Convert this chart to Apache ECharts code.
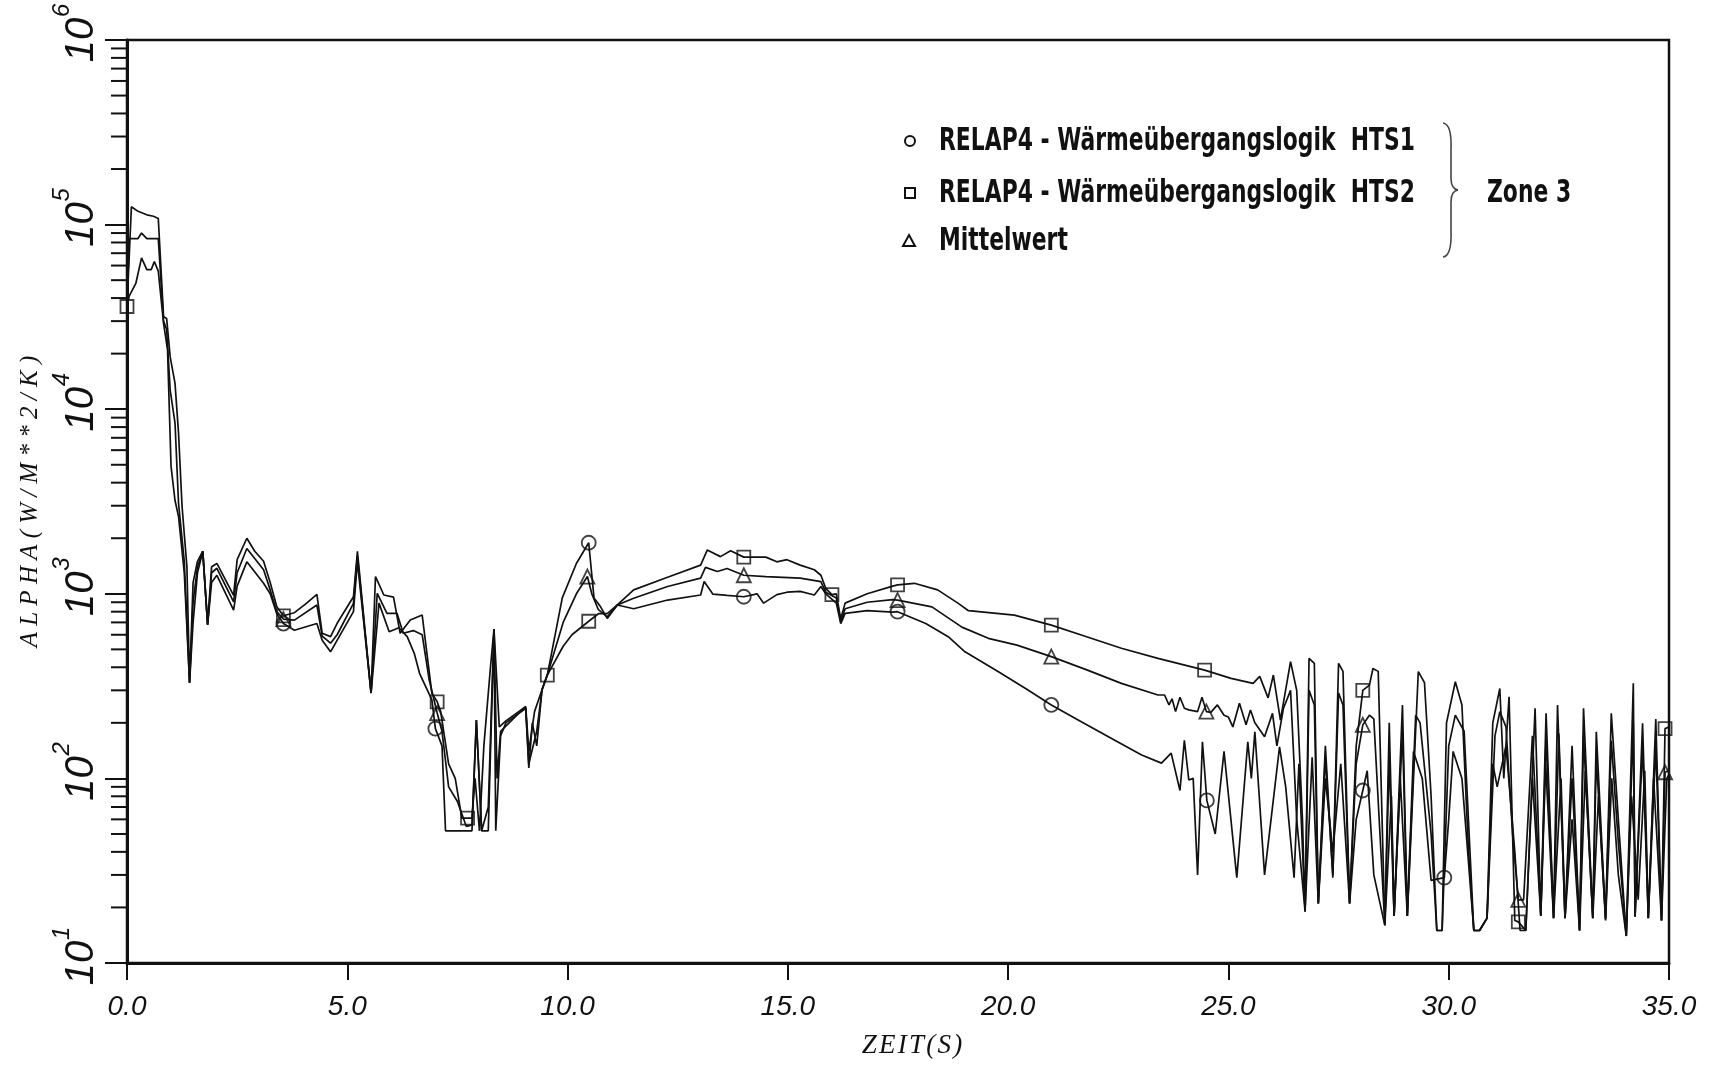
<!DOCTYPE html>
<html><head><meta charset="utf-8">
<script src="https://cdn.jsdelivr.net/npm/echarts@6/dist/echarts.min.js"></script>
<style>html,body{margin:0;padding:0;background:#fff}#c{width:1727px;height:1067px}</style>
</head><body><div id="c"></div>
<script>
// ---- data (time in s, alpha in W/m²/K) ----
var xTicks = [0, 5, 10, 15, 20, 25, 30, 35];
var yDecades = [10, 100, 1000, 10000, 100000, 1000000];
var yMinorTicks = [20,30,40,50,60,70,80,90,200,300,400,500,600,700,800,900,2000,3000,4000,5000,6000,7000,8000,9000,20000,30000,40000,50000,60000,70000,80000,90000,200000,300000,400000,500000,600000,700000,800000,900000];

var hts1 = [[0,36000],[0.05,41000],[0.2,48000],[0.33,66000],[0.45,57000],[0.55,57000],[0.62,63000],[0.71,56000],[0.83,29200],[0.92,21000],[1.0,4900],[1.09,3200],[1.17,2620],[1.3,1300],[1.42,330],[1.5,700],[1.6,1300],[1.72,1700],[1.83,680],[1.92,1150],[2.04,1260],[2.42,815],[2.5,1100],[2.72,1490],[3.1,1140],[3.25,1000],[3.4,780],[3.55,690],[3.8,635],[4.31,690],[4.43,560],[4.62,485],[5.14,800],[5.23,1500],[5.54,290],[5.72,890],[5.95,623],[6.17,655],[6.36,586],[6.52,476],[6.64,371],[6.92,266],[7.0,186],[7.15,150],[7.23,52],[7.83,52],[7.93,207],[8.05,52],[8.2,52],[8.33,645],[8.37,52],[8.48,170],[8.6,200],[8.89,225],[9.05,240],[9.12,114],[9.2,200],[9.3,150],[9.42,302],[9.54,363],[9.88,950],[10.2,1460],[10.48,1890],[10.6,950],[10.75,850],[10.9,736],[11.13,870],[11.5,830],[12.27,925],[13.02,985],[13.1,1165],[13.3,995],[13.62,980],[14.0,964],[14.3,1000],[14.45,890],[14.75,990],[14.98,1020],[15.28,1030],[15.6,985],[15.75,1095],[15.86,1000],[16.1,890],[16.2,690],[16.3,784],[16.8,810],[17.38,795],[17.49,800],[18.13,690],[18.64,586],[19.02,485],[19.78,378],[20.45,301],[20.98,250],[21.66,203],[22.42,161],[23.03,134],[23.48,121],[23.7,137],[23.9,86],[24.0,161],[24.1,98],[24.2,100],[24.3,30],[24.41,158],[24.51,76],[24.7,50],[24.9,140],[25.19,29],[25.44,158],[25.52,100],[25.6,179],[25.82,30],[26.16,148],[26.3,90],[26.49,29],[26.6,120],[26.74,19],[26.9,130],[27.04,21],[27.2,100],[27.37,40],[27.55,120],[27.75,21],[27.9,60],[28.05,86],[28.15,110],[28.3,30],[28.55,16],[28.65,130],[28.76,18],[28.9,100],[29.06,18],[29.2,140],[29.4,100],[29.6,28],[29.9,29],[30.0,60],[30.1,140],[30.3,100],[30.57,15],[30.7,15],[30.87,17.5],[31.0,120],[31.1,90],[31.3,150],[31.5,40],[31.62,15],[31.75,15],[31.9,100],[32.09,18],[32.2,120],[32.38,17.5],[32.55,100],[32.64,17.5],[32.8,60],[32.97,15],[33.1,110],[33.27,17.5],[33.4,80],[33.56,17],[33.7,100],[33.85,30],[34.03,14],[34.15,80],[34.3,22],[34.45,110],[34.53,17.5],[34.65,100],[34.83,17],[34.95,100],[35.0,105]];

var hts2 = [[0,36000],[0.1,125000],[0.25,118000],[0.45,113000],[0.6,111000],[0.71,108000],[0.83,31700],[0.9,31000],[0.98,19200],[1.09,13800],[1.17,7400],[1.25,2970],[1.36,1400],[1.42,330],[1.5,1150],[1.6,1500],[1.72,1700],[1.83,680],[1.92,1400],[2.04,1460],[2.42,980],[2.5,1530],[2.72,2000],[2.9,1700],[3.1,1500],[3.25,1150],[3.4,850],[3.55,760],[3.8,790],[4.05,880],[4.31,993],[4.43,611],[4.62,586],[4.77,692],[5.14,964],[5.23,1700],[5.54,290],[5.64,1240],[5.83,985],[6.05,960],[6.2,611],[6.43,721],[6.7,767],[6.92,289],[7.04,260],[7.12,230],[7.3,120],[7.45,100],[7.6,61],[7.83,61],[7.9,100],[8.0,52],[8.1,150],[8.25,400],[8.33,645],[8.45,190],[8.6,205],[8.89,230],[9.05,245],[9.12,140],[9.25,230],[9.42,302],[9.54,363],[9.9,520],[10.1,600],[10.48,710],[10.7,780],[10.9,780],[11.13,870],[11.5,1050],[12.27,1230],[13.02,1430],[13.17,1725],[13.47,1590],[13.7,1710],[14.0,1580],[14.5,1580],[14.75,1490],[14.98,1530],[15.28,1430],[15.6,1350],[15.75,1260],[15.86,1070],[16.0,990],[16.1,1000],[16.2,730],[16.3,890],[16.8,1000],[17.38,1100],[17.49,1117],[17.87,1140],[18.4,1050],[18.86,890],[19.1,810],[20.14,767],[20.98,677],[21.66,598],[22.57,507],[23.4,447],[24.46,386],[25.06,348],[25.56,327],[25.71,357],[25.9,273],[26.02,363],[26.18,207],[26.41,429],[26.55,300],[26.68,60],[26.74,19],[26.83,447],[26.95,420],[27.04,21],[27.2,150],[27.37,29],[27.5,420],[27.6,380],[27.75,21],[27.9,150],[28.05,300],[28.2,320],[28.28,394],[28.4,380],[28.55,16],[28.7,80],[28.76,18],[28.95,250],[29.06,18],[29.31,379],[29.45,330],[29.6,80],[29.73,15],[29.85,15],[29.95,200],[30.15,334],[30.3,250],[30.45,40],[30.57,15],[30.7,15],[30.87,17.5],[31.0,200],[31.16,307],[31.25,100],[31.37,277],[31.5,17],[31.58,16.7],[31.75,15],[31.96,240],[32.09,18],[32.21,225],[32.38,17.5],[32.47,250],[32.64,17.5],[32.8,150],[32.97,15],[33.06,240],[33.27,17.5],[33.35,179],[33.56,17.4],[33.69,225],[33.85,60],[34.03,14],[34.19,328],[34.23,17.8],[34.4,199],[34.53,17.5],[34.7,210],[34.83,17],[34.91,186],[35.0,190]];

var mittel = [[0,36000],[0.05,84000],[0.25,84000],[0.33,90000],[0.45,84000],[0.71,84000],[0.83,30000],[0.9,27000],[0.98,12700],[1.09,8400],[1.17,3090],[1.3,1500],[1.42,330],[1.5,900],[1.6,1400],[1.72,1700],[1.83,680],[1.92,1300],[2.04,1375],[2.42,905],[2.5,1300],[2.72,1760],[3.1,1350],[3.25,1050],[3.4,800],[3.55,730],[3.8,720],[4.31,869],[4.43,590],[4.62,540],[4.77,600],[5.14,887],[5.23,1600],[5.54,290],[5.68,1006],[5.9,783],[6.13,783],[6.27,611],[6.5,632],[6.7,600],[6.86,341],[7.04,226],[7.15,180],[7.3,90],[7.5,75],[7.7,55],[7.83,56],[7.93,207],[8.05,52],[8.2,70],[8.33,645],[8.4,100],[8.48,180],[8.89,225],[9.05,240],[9.12,120],[9.3,180],[9.42,302],[9.54,363],[9.9,700],[10.2,1000],[10.45,1240],[10.55,1000],[10.7,820],[10.9,750],[11.13,870],[11.5,946],[12.27,1095],[13.02,1215],[13.13,1390],[13.4,1320],[13.62,1370],[14.0,1260],[14.5,1240],[15.28,1215],[15.75,1165],[15.86,1020],[16.1,950],[16.2,710],[16.3,830],[16.8,900],[17.38,930],[17.49,925],[18.27,850],[18.95,660],[19.55,574],[20.2,527],[20.98,457],[21.8,386],[22.57,327],[23.4,283],[23.55,283],[23.65,250],[23.72,270],[23.8,230],[23.9,275],[24.0,240],[24.1,235],[24.3,230],[24.4,275],[24.5,230],[24.6,228],[24.75,250],[24.9,220],[25.0,215],[25.1,190],[25.25,255],[25.4,195],[25.5,235],[25.6,200],[25.82,168],[26.0,225],[26.1,150],[26.25,240],[26.41,300],[26.55,60],[26.74,19],[26.83,300],[26.95,250],[27.04,21],[27.2,130],[27.37,30],[27.5,290],[27.6,250],[27.75,21],[27.9,120],[28.05,195],[28.2,220],[28.3,210],[28.55,16],[28.65,200],[28.76,18],[28.95,180],[29.06,18],[29.25,220],[29.35,200],[29.6,50],[29.73,15],[29.85,15],[30.0,150],[30.15,220],[30.35,180],[30.57,15],[30.7,15],[30.87,17.5],[31.05,170],[31.16,230],[31.3,190],[31.45,50],[31.58,22],[31.7,22],[31.9,170],[32.09,18],[32.21,170],[32.38,17.5],[32.5,175],[32.64,17.5],[32.8,100],[32.97,15],[33.06,170],[33.27,17.5],[33.35,130],[33.56,17.4],[33.69,160],[33.85,45],[34.03,14],[34.19,200],[34.23,17.8],[34.4,150],[34.53,17.5],[34.7,150],[34.83,17],[34.91,108],[35.0,110]];

var hts1Marks = [[3.55,690],[7.0,186],[10.48,1890],[14.0,964],[17.49,800],[20.98,250],[24.51,76],[28.05,86],[29.9,29]];
var hts2Marks = [[0,36000],[3.55,760],[7.04,260],[7.73,61],[9.54,363],[10.48,710],[14.0,1580],[16.0,990],[17.49,1117],[20.98,677],[24.46,386],[28.05,300],[31.58,16.7],[34.91,186]];
var mittelMarks = [[3.55,730],[7.04,226],[10.45,1240],[14.0,1260],[17.49,925],[20.98,457],[24.5,230],[28.05,195],[31.58,22],[34.91,108]];

var names = ['RELAP4 - Wärmeübergangslogik  HTS1', 'RELAP4 - Wärmeübergangslogik  HTS2', 'Mittelwert'];
var zoneLabel = 'Zone 3';
var xName = 'ZEIT(S)';
var yName = 'ALPHA(W/M**2/K)';

// ---- chart ----
var chart = echarts.init(document.getElementById('c'), null, {renderer: 'canvas'});
var INK = '#111';
var lineStyle = {color: INK, width: 1.7};
var markStyle = {color: 'rgba(0,0,0,0)', borderColor: INK, borderWidth: 1.8};
var legFont = 'bold 32px "DejaVu Sans Condensed", "DejaVu Sans", sans-serif';
var LSX = 0.76;
function spaced(s, sep) { return s.split('').join(sep); }

function lineSeries(name, data) {
  return {type: 'line', name: name, data: data, symbol: 'none', lineStyle: lineStyle, animation: false, z: 3};
}
function markSeries(name, data, sym, size) {
  return {type: 'scatter', name: name, data: data, symbol: sym, symbolSize: size, itemStyle: markStyle, animation: false, z: 4};
}

var option = {
  backgroundColor: '#fff',
  animation: false,
  grid: {left: 127, right: 58, top: 40, bottom: 104, show: true, borderColor: INK, borderWidth: 2.5, backgroundColor: 'transparent'},
  xAxis: {
    type: 'value', min: 0, max: 35, interval: 5,
    name: spaced(xName, '\u200A'), nameLocation: 'middle', nameGap: 69,
    nameTextStyle: {fontFamily: '"Liberation Serif", serif', fontStyle: 'italic', fontSize: 27, color: INK, padding: [0, 0, 0, 28]},
    axisLine: {show: true, lineStyle: {color: INK, width: 3}},
    axisTick: {show: true, inside: false, length: 17, lineStyle: {color: INK, width: 2}},
    axisLabel: {margin: 30, fontFamily: '"Liberation Sans", sans-serif', fontStyle: 'italic', fontSize: 28, color: INK,
      formatter: function (v) { return v.toFixed(1); }},
    splitLine: {show: false}
  },
  yAxis: {
    type: 'log', logBase: 10, min: 10, max: 1000000,
    name: spaced(yName, '\u2005'), nameLocation: 'middle', nameGap: 84,
    nameTextStyle: {fontFamily: '"Liberation Serif", serif', fontStyle: 'italic', fontSize: 25, color: INK},
    axisLine: {show: true, lineStyle: {color: INK, width: 3}},
    axisTick: {show: true, inside: false, length: 22, lineStyle: {color: INK, width: 2}},
    axisLabel: {show: false},
    splitLine: {show: false}
  },
  series: [
    lineSeries(names[0], hts1),
    lineSeries(names[1], hts2),
    lineSeries(names[2], mittel),
    markSeries(names[0], hts1Marks, 'circle', 14),
    markSeries(names[1], hts2Marks, 'rect', 13),
    markSeries(names[2], mittelMarks, 'triangle', 14),
    {
      type: 'custom', name: 'minorTicks', silent: true, animation: false, clip: false, z: 5,
      data: yMinorTicks.map(function (v) { return [0, v]; }),
      renderItem: function (params, api) {
        var p = api.coord([0, api.value(1)]);
        return {type: 'line', shape: {x1: p[0] - 16, y1: p[1], x2: p[0], y2: p[1]}, style: {stroke: INK, lineWidth: 2}};
      }
    },
    {
      type: 'custom', name: 'yLabels', silent: true, animation: false, clip: false, z: 5,
      data: yDecades.map(function (v) { return [0, v]; }),
      renderItem: function (params, api) {
        var v = api.value(1);
        var p = api.coord([0, v]);
        var e = Math.round(Math.log(v) / Math.LN10);
        return {
          type: 'group', x: p[0] - 45, y: p[1], rotation: Math.PI / 2,
          children: [
            {type: 'text', x: 0, y: 0, style: {text: '10', font: 'italic 40px "Liberation Sans", sans-serif', fill: INK, align: 'center', verticalAlign: 'middle'}},
            {type: 'text', x: 23, y: -20, style: {text: String(e), font: 'italic 24px "Liberation Sans", sans-serif', fill: INK, align: 'left', verticalAlign: 'middle'}}
          ]
        };
      }
    }
  ],
  graphic: [
    {type: 'circle', shape: {cx: 910, cy: 141, r: 5}, style: {fill: 'none', stroke: INK, lineWidth: 2}},
    {type: 'rect', shape: {x: 905, y: 188, width: 10, height: 10}, style: {fill: 'none', stroke: INK, lineWidth: 2}},
    {type: 'polygon', shape: {points: [[909, 235], [915, 246], [903, 246]]}, style: {fill: 'none', stroke: INK, lineWidth: 2}},
    {type: 'text', x: 939, y: 142, scaleX: LSX, style: {text: names[0], font: legFont, fill: INK, verticalAlign: 'middle'}},
    {type: 'text', x: 939, y: 194, scaleX: LSX, style: {text: names[1], font: legFont, fill: INK, verticalAlign: 'middle'}},
    {type: 'text', x: 939, y: 242, scaleX: LSX, style: {text: names[2], font: legFont, fill: INK, verticalAlign: 'middle'}},
    {type: 'bezierCurve', shape: {x1: 1443, y1: 123, cpx1: 1452, cpy1: 124, x2: 1451, y2: 150}, style: {fill: 'none', stroke: '#444', lineWidth: 1.6}},
    {type: 'line', shape: {x1: 1451, y1: 150, x2: 1451, y2: 178}, style: {stroke: '#444', lineWidth: 1.6}},
    {type: 'bezierCurve', shape: {x1: 1451, y1: 178, cpx1: 1451, cpy1: 189, x2: 1458, y2: 190}, style: {fill: 'none', stroke: '#444', lineWidth: 1.6}},
    {type: 'bezierCurve', shape: {x1: 1458, y1: 190, cpx1: 1451, cpy1: 191, x2: 1451, y2: 202}, style: {fill: 'none', stroke: '#444', lineWidth: 1.6}},
    {type: 'line', shape: {x1: 1451, y1: 202, x2: 1451, y2: 230}, style: {stroke: '#444', lineWidth: 1.6}},
    {type: 'bezierCurve', shape: {x1: 1451, y1: 230, cpx1: 1452, cpy1: 256, x2: 1443, y2: 257}, style: {fill: 'none', stroke: '#444', lineWidth: 1.6}},
    {type: 'text', x: 1487, y: 194, scaleX: LSX, style: {text: zoneLabel, font: legFont, fill: INK, verticalAlign: 'middle'}}
  ]
};
chart.setOption(option);
</script></body></html>
